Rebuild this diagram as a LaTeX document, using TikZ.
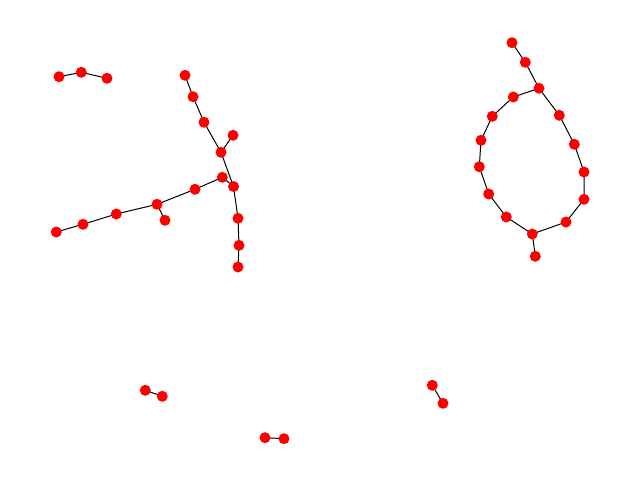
\documentclass[tikz,border=0pt]{standalone}
\usetikzlibrary{backgrounds}
\begin{document}
\begin{tikzpicture}[x=1pt,y=-1pt,
  vtx/.style={circle,fill=red,inner sep=0pt,minimum size=11pt},
  edg/.style={line width=1pt,black}]
\useasboundingbox (0,0) rectangle (640,480);
% small path of three
\node[vtx] (a1) at (59,76.7) {};
\node[vtx] (a2) at (81.3,72.3) {};
\node[vtx] (a3) at (107,78.3) {};
% tree
\node[vtx] (t1) at (185,75.3) {};
\node[vtx] (t2) at (193,96.7) {};
\node[vtx] (t3) at (204,122.3) {};
\node[vtx] (t4) at (221,152.3) {};
\node[vtx] (t5) at (233,135.3) {};
\node[vtx] (t6) at (233.5,186.5) {};
\node[vtx] (t7) at (238,218.3) {};
\node[vtx] (t8) at (239,245.3) {};
\node[vtx] (t9) at (238,267) {};
\node[vtx] (b1) at (222.3,177.3) {};
\node[vtx] (b2) at (195,189.3) {};
\node[vtx] (b3) at (157,204.3) {};
\node[vtx] (b4) at (165,220.3) {};
\node[vtx] (b5) at (116.3,214) {};
\node[vtx] (b6) at (83,224.3) {};
\node[vtx] (b7) at (56.3,232) {};
% cycle
\node[vtx] (c0) at (512,42.7) {};
\node[vtx] (c1) at (525.3,62.3) {};
\node[vtx] (c2) at (539,88.3) {};
\node[vtx] (c3) at (513.3,97) {};
\node[vtx] (c4) at (492.3,116.3) {};
\node[vtx] (c5) at (481,140.3) {};
\node[vtx] (c6) at (479.3,166.7) {};
\node[vtx] (c7) at (488.7,194) {};
\node[vtx] (c8) at (506.3,217) {};
\node[vtx] (c9) at (532.3,234) {};
\node[vtx] (c10) at (535.3,256.3) {};
\node[vtx] (c11) at (566,222) {};
\node[vtx] (c12) at (584,199.3) {};
\node[vtx] (c13) at (584,172) {};
\node[vtx] (c14) at (574.3,144.3) {};
\node[vtx] (c15) at (559.3,115.3) {};
% pairs
\node[vtx] (p1) at (145.3,390.3) {};
\node[vtx] (p2) at (162.3,396.3) {};
\node[vtx] (p3) at (265,437.7) {};
\node[vtx] (p4) at (284,438.7) {};
\node[vtx] (p5) at (432.3,385.3) {};
\node[vtx] (p6) at (443,403.3) {};
\begin{scope}[on background layer]
\draw[edg] (a1.center) -- (a2.center) -- (a3.center);
\draw[edg] (t1.center) -- (t2.center) -- (t3.center) -- (t4.center) -- (t6.center) -- (t7.center) -- (t8.center) -- (t9.center);
\draw[edg] (t4.center) -- (t5.center);
\draw[edg] (t6.center) -- (b1.center) -- (b2.center) -- (b3.center) -- (b5.center) -- (b6.center) -- (b7.center);
\draw[edg] (b3.center) -- (b4.center);
\draw[edg] (c0.center) -- (c1.center) -- (c2.center) -- (c3.center) -- (c4.center) -- (c5.center) -- (c6.center) -- (c7.center) -- (c8.center) -- (c9.center) -- (c11.center) -- (c12.center) -- (c13.center) -- (c14.center) -- (c15.center) -- (c2.center);
\draw[edg] (c9.center) -- (c10.center);
\draw[edg] (p1.center) -- (p2.center);
\draw[edg] (p3.center) -- (p4.center);
\draw[edg] (p5.center) -- (p6.center);
\end{scope}
\end{tikzpicture}
\end{document}
